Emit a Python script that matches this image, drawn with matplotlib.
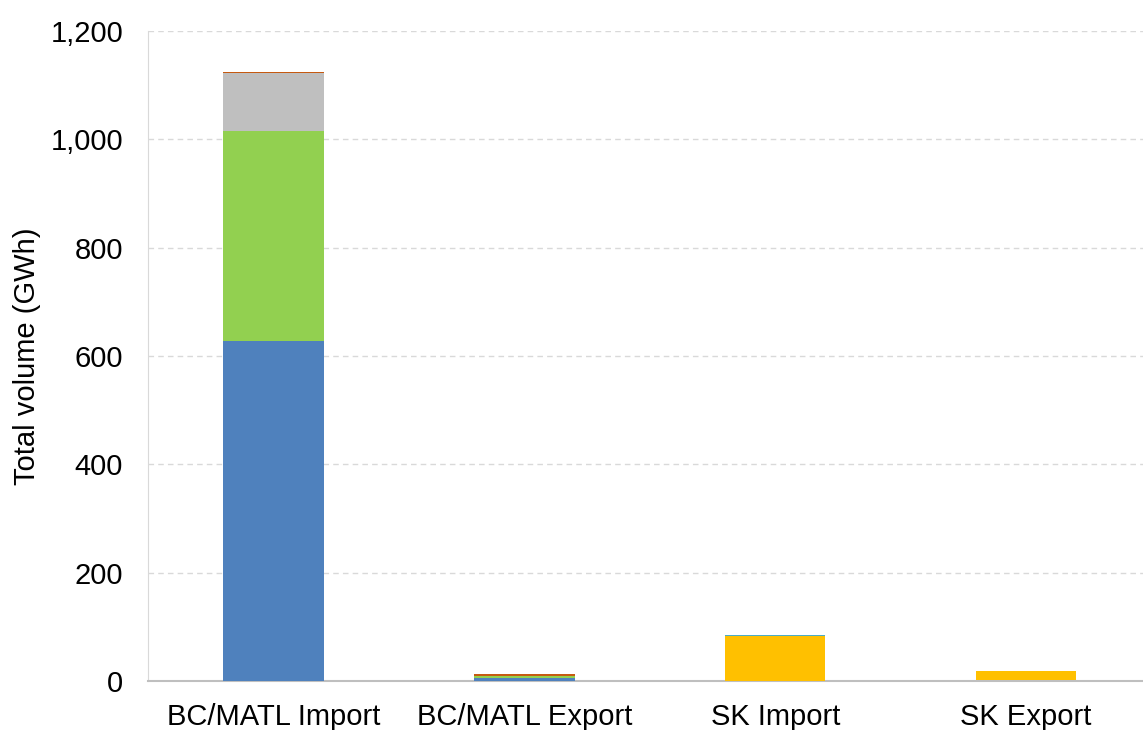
import numpy as np
import matplotlib.pyplot as plt
from matplotlib.ticker import FuncFormatter

plt.rcParams['font.family'] = ['Liberation Sans', 'DejaVu Sans']

categories = ['BC/MATL Import', 'BC/MATL Export', 'SK Import', 'SK Export']

# GWh by segment, stacked bottom to top
series_names = ['Hydro', 'Wind', 'Other', 'Gas', 'Coal', 'Solar']
series_colors = ['#4F81BD', '#92D050', '#BFBFBF', '#C55A11', '#FFC000', '#4BACC6']
blue_vals = [627, 6, 0, 0]
green_vals = [388, 4, 0, 0]
gray_vals = [107, 0, 0, 2]
orange_vals = [3, 3, 0, 0]
yellow_vals = [0, 0, 83, 16]
teal_vals = [0, 0, 3, 0]

stacks = [blue_vals, green_vals, gray_vals, orange_vals, yellow_vals, teal_vals]

fig = plt.figure(figsize=(11.43, 7.30), dpi=100)
ax = fig.add_axes([0.1295, 0.067, 0.878, 0.8905])

x = np.arange(len(categories))
bottom = np.zeros(len(categories))
for vals, name, col in zip(stacks, series_names, series_colors):
    vals = np.array(vals, dtype=float)
    ax.bar(x, vals, 0.4, bottom=bottom, color=col, label=name, zorder=3)
    bottom += vals

ax.set_xlim(-0.5, 3.5)
ax.set_ylim(0, 1200)
ax.set_yticks(np.arange(0, 1201, 200))
ax.yaxis.set_major_formatter(FuncFormatter(lambda v, p: f'{int(v):,}'))
ax.set_xticks(x)
ax.set_xticklabels(categories)
ax.tick_params(axis='both', labelsize=21, length=0, colors='black')
ax.tick_params(axis='x', pad=16)
ax.tick_params(axis='y', pad=18)
ax.set_ylabel('Total volume (GWh)', fontsize=21, labelpad=7)

ax.grid(axis='y', linestyle=(0, (4, 3)), color='#D9D9D9', linewidth=1, zorder=0)
for s in ['top', 'right']:
    ax.spines[s].set_visible(False)
ax.spines['left'].set_color('#D9D9D9')
ax.spines['bottom'].set_color('#BFBFBF')
ax.spines['bottom'].set_linewidth(1.5)

fig.savefig('out.png', dpi=100)
